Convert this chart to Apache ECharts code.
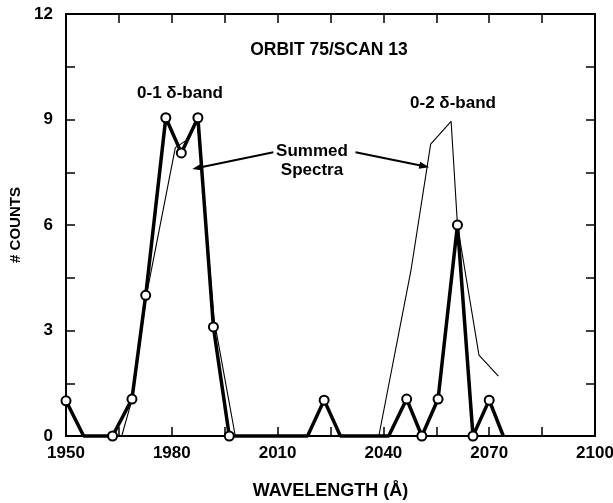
<!DOCTYPE html>
<html><head><meta charset="utf-8">
<script src="https://cdn.jsdelivr.net/npm/echarts@6/dist/echarts.min.js"></script>
<style>html,body{margin:0;padding:0;background:#fff}#c{width:613px;height:503px}</style>
</head><body><div id="c"></div>
<script>
// Observed counts (thick line); marked = drawn with open circle
const obsWavelength = [1950, 1955, 1963.2, 1968.7, 1972.6, 1978.3, 1982.7, 1987.4, 1991.8, 1996.3, 2018.5, 2023.2, 2027.8, 2041.5, 2046.6, 2050.9, 2055.5, 2061, 2065.4, 2070, 2074];
const obsCounts     = [1, 0, 0, 1.05, 4, 9.05, 8.05, 9.05, 3.1, 0, 0, 1.02, 0, 0, 1.05, 0, 1.05, 6, 0, 1.02, 0];
const obsMarked     = [1, 0, 1, 1, 1, 1, 1, 1, 1, 1, 0, 1, 0, 0, 1, 1, 1, 1, 1, 1, 0];
// Summed spectra (thin lines), two segments
const sum1Wavelength = [1965.8, 1968.9, 1972.8, 1981, 1984, 1987.2, 1992, 1998];
const sum1Counts     = [0, 1.1, 4, 8.2, 8.4, 9, 3.3, 0];
const sum2Wavelength = [2038.7, 2047.8, 2053.4, 2059.2, 2061, 2067.1, 2072.6];
const sum2Counts     = [0, 4.7, 8.3, 8.95, 6, 2.3, 1.7];
// Tick labels
const xTickLabels = [1950, 1980, 2010, 2040, 2070, 2100];
const yTickLabels = [0, 3, 6, 9, 12];
// Arrow annotation endpoints (data space)
const arrowFrom = [[2008.8, 8.07], [2032.1, 8.07]];
const arrowTo   = [[1987.2, 7.62], [2051.6, 7.67]];

const FONT = '"Liberation Sans", Arial, sans-serif';
const chart = echarts.init(document.getElementById('c'));
const axisLine = {show: true, onZero: false, lineStyle: {color: '#000', width: 2}};
const tick = {show: true, inside: true, length: 9, lineStyle: {color: '#000', width: 1.5}};
const minor = {show: true, splitNumber: 2, length: 9, lineStyle: {color: '#000', width: 1.5}};
const lbl = {color: '#000', fontFamily: FONT, fontWeight: 'bold', fontSize: 17};

const obsData = obsWavelength.map((w, i) => obsMarked[i]
  ? {value: [w, obsCounts[i]]}
  : {value: [w, obsCounts[i]], symbol: 'none'});

chart.setOption({
  animation: false,
  backgroundColor: '#fff',
  grid: {left: 66, right: 18, top: 14, bottom: 67, outerBoundsMode: 'none', containLabel: false},
  xAxis: [
    {type: 'value', min: 1950, max: 2100, interval: 30, position: 'bottom',
     axisLine, axisTick: tick, minorTick: minor, splitLine: {show: false}, minorSplitLine: {show: false},
     axisLabel: Object.assign({margin: 9, formatter: v => (xTickLabels.indexOf(v) >= 0 ? String(v) : '')}, lbl),
     name: 'WAVELENGTH (Å)', nameLocation: 'middle', nameGap: 46,
     nameTextStyle: {color: '#000', fontFamily: FONT, fontWeight: 'bold', fontSize: 18}},
    {type: 'value', min: 1950, max: 2100, interval: 30, position: 'top',
     axisLine, axisTick: tick, minorTick: minor, splitLine: {show: false}, axisLabel: {show: false}}
  ],
  yAxis: [
    {type: 'value', min: 0, max: 12, interval: 3, position: 'left',
     axisLine, axisTick: tick, minorTick: minor, splitLine: {show: false},
     axisLabel: Object.assign({margin: 13, formatter: v => (yTickLabels.indexOf(v) >= 0 ? String(v) : '')}, lbl),
     name: '# COUNTS', nameLocation: 'middle', nameGap: 43, nameRotate: 90,
     nameTextStyle: {color: '#000', fontFamily: FONT, fontWeight: 'bold', fontSize: 15}},
    {type: 'value', min: 0, max: 12, interval: 3, position: 'right',
     axisLine, axisTick: tick, minorTick: minor, splitLine: {show: false}, axisLabel: {show: false}}
  ],
  series: [
    {type: 'line', data: sum1Wavelength.map((w, i) => [w, sum1Counts[i]]), symbol: 'none',
     lineStyle: {color: '#000', width: 1.1}, z: 2, clip: false},
    {type: 'line', data: sum2Wavelength.map((w, i) => [w, sum2Counts[i]]), symbol: 'none',
     lineStyle: {color: '#000', width: 1.1}, z: 2, clip: false,
     markLine: {silent: true, symbol: ['none', 'triangle'], symbolSize: [7, 10],
       lineStyle: {color: '#000', width: 2, type: 'solid'}, label: {show: false},
       data: arrowFrom.map((f, i) => [{coord: f}, {coord: arrowTo[i]}])}},
    {type: 'line', data: obsData, symbol: 'circle', symbolSize: 9, showSymbol: true,
     itemStyle: {color: '#fff', borderColor: '#000', borderWidth: 2},
     lineStyle: {color: '#000', width: 3.5}, z: 3, clip: false}
  ],
  graphic: [
    {type: 'text', style: {text: 'ORBIT 75/SCAN 13', x: 329, y: 50, align: 'center', verticalAlign: 'middle', fill: '#000', font: 'bold 17.5px ' + FONT}},
    {type: 'text', style: {text: '0-1 δ-band', x: 180, y: 93, align: 'center', verticalAlign: 'middle', fill: '#000', font: 'bold 17px ' + FONT}},
    {type: 'text', style: {text: '0-2 δ-band', x: 453, y: 103, align: 'center', verticalAlign: 'middle', fill: '#000', font: 'bold 17px ' + FONT}},
    {type: 'text', style: {text: 'Summed\nSpectra', x: 312, y: 161, align: 'center', verticalAlign: 'middle', lineHeight: 19, fill: '#000', font: 'bold 17px ' + FONT}}
  ]
});
</script></body></html>
